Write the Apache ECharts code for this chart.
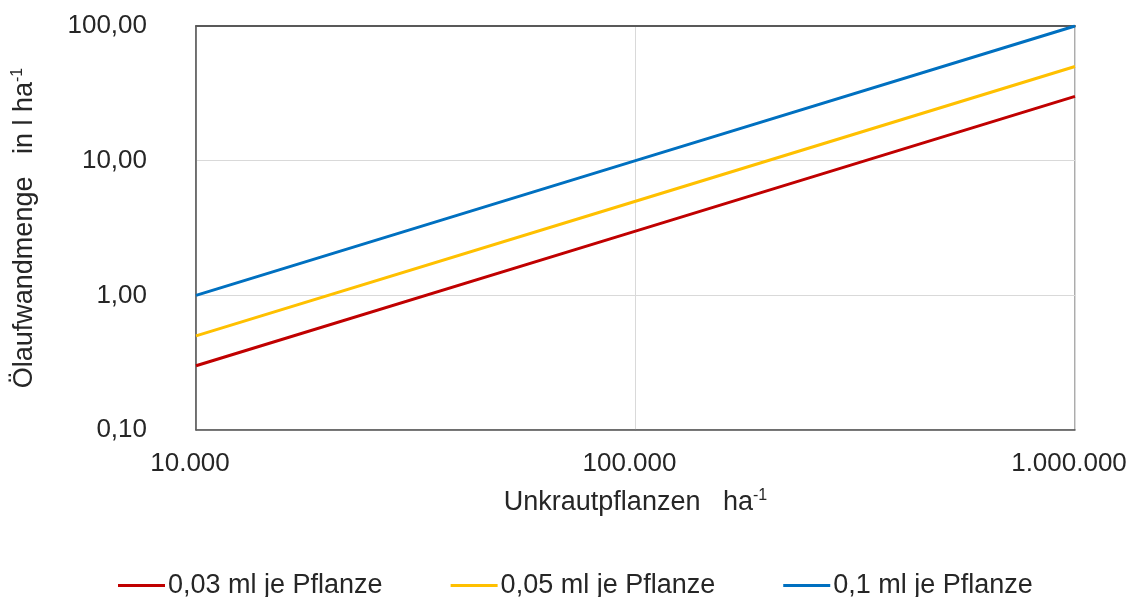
<!DOCTYPE html>
<html>
<head>
<meta charset="utf-8">
<script src="https://cdn.jsdelivr.net/npm/echarts@6/dist/echarts.min.js"></script>
<style>
  html, body { margin: 0; padding: 0; background: #fff; }
  #chart { width: 1135px; height: 597px; }
</style>
</head>
<body>
<div id="chart"></div>
<script>
// Unkrautpflanzen je ha (x) und Ölaufwand in l/ha (y)
var plants = [10000, 100000, 1000000];
var seriesNames = ["0,03 ml je Pflanze", "0,05 ml je Pflanze", "0,1 ml je Pflanze"];
var oil003 = [0.3, 3, 30];
var oil005 = [0.5, 5, 50];
var oil01 = [1, 10, 100];
var colors = ["#C00000", "#FFC000", "#0070C0"];

var font = "Liberation Sans, Arial, sans-serif";
var txt = "#262626";

function pairs(ys) {
  return plants.map(function (x, i) { return [x, ys[i]]; });
}
function fmtX(v) {
  return String(Math.round(v)).replace(/\B(?=(\d{3})+(?!\d))/g, ".");
}
function fmtY(v) {
  return v.toFixed(2).replace(".", ",");
}

var chart = echarts.init(document.getElementById("chart"));
var rich = {
  n: { fontSize: 27, fontFamily: font, color: txt, lineHeight: 30 },
  sup: { fontSize: 16, fontFamily: font, color: txt, lineHeight: 16, verticalAlign: "top" }
};

chart.setOption({
  animation: false,
  textStyle: { fontFamily: font },
  grid: {
    left: 196, right: 60, top: 26, bottom: 167,
    show: true, borderColor: "#595959", borderWidth: 1
  },
  legend: {
    left: 113, top: 567,
    icon: "rect", itemWidth: 47, itemHeight: 3, itemGap: 68,
    textStyle: { fontSize: 27, color: txt, fontFamily: font, padding: [0, 0, 0, -2] },
    data: seriesNames
  },
  xAxis: [{
    type: "log", logBase: 10, min: 10000, max: 1000000,
    name: "{n|Unkrautpflanzen   ha}{sup|-1}",
    nameLocation: "middle", nameGap: 58,
    nameTextStyle: { rich: rich },
    axisLine: { lineStyle: { color: "#595959", width: 1.5 } },
    axisTick: { show: false },
    minorTick: { show: false },
    axisLabel: { formatter: fmtX, fontSize: 26, color: txt, margin: 21, padding: [0, 12, 0, 0] },
    splitLine: { show: true, lineStyle: { color: "#d9d9d9", width: 1 } }
  }, {
    type: "log", position: "top", min: 10000, max: 1000000,
    axisLine: { show: true, onZero: false, lineStyle: { color: "#595959", width: 2 } },
    axisTick: { show: false }, axisLabel: { show: false }, splitLine: { show: false }
  }],
  yAxis: {
    type: "log", logBase: 10, min: 0.1, max: 100,
    name: "{n|Ölaufwandmenge   in l ha}{sup|-1}",
    nameLocation: "middle", nameGap: 156, nameRotate: 90,
    nameTextStyle: { rich: rich },
    axisLine: { show: true, lineStyle: { color: "#595959", width: 1.5 } },
    axisTick: { show: false },
    axisLabel: { formatter: fmtY, fontSize: 26, color: txt, margin: 49 },
    splitLine: { show: true, lineStyle: { color: "#d9d9d9", width: 1 } }
  },
  series: [
    { name: seriesNames[0], type: "line", data: pairs(oil003) },
    { name: seriesNames[1], type: "line", data: pairs(oil005) },
    { name: seriesNames[2], type: "line", data: pairs(oil01) }
  ].map(function (s, i) {
    s.showSymbol = false;
    s.symbol = "none";
    s.color = colors[i];
    s.lineStyle = { width: 3, color: colors[i] };
    s.z = 3 - i + 2;
    return s;
  })
});
</script>
</body>
</html>
